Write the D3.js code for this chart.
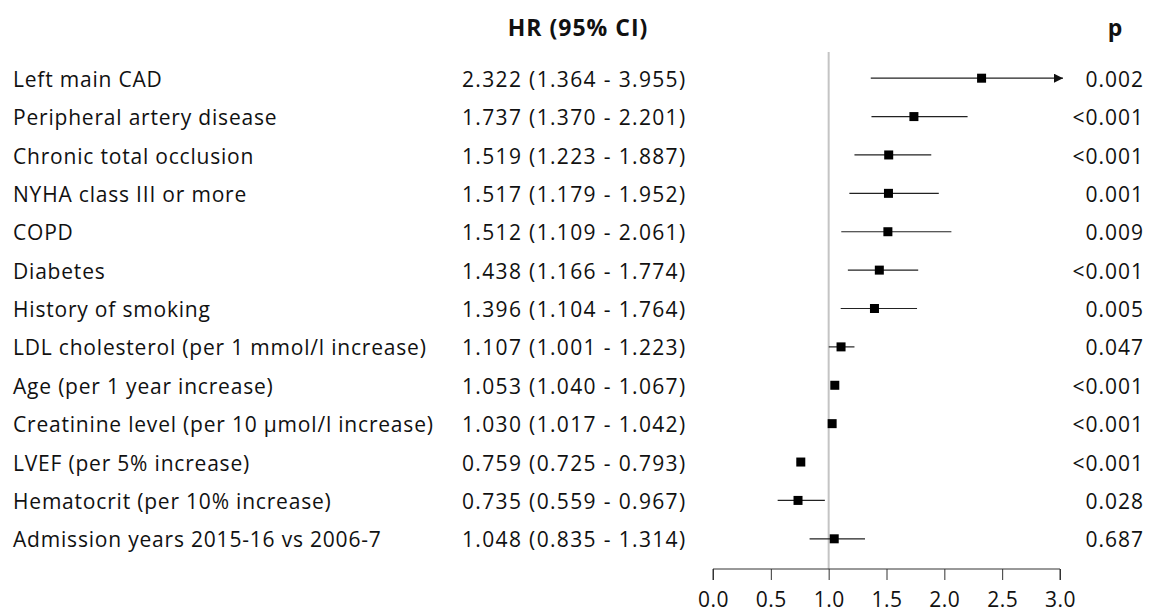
<!DOCTYPE html>
<html>
<head>
<meta charset="utf-8">
<script src="https://cdn.jsdelivr.net/npm/d3@7"></script>
<style>
  body { margin: 0; background: #fff; }
  text { font-family: "Open Sans", "Noto Sans", sans-serif; fill: #111; }
</style>
</head>
<body>
<div class="Canvas"></div>
<script>
// Rows of the forest plot, top to bottom.
const labels = [
    'Left main CAD',
    'Peripheral artery disease',
    'Chronic total occlusion',
    'NYHA class III or more',
    'COPD',
    'Diabetes',
    'History of smoking',
    'LDL cholesterol (per 1 mmol/l increase)',
    'Age (per 1 year increase)',
    'Creatinine level (per 10 \u00b5mol/l increase)',
    'LVEF (per 5% increase)',
    'Hematocrit (per 10% increase)',
    'Admission years 2015-16 vs 2006-7'
];
const hr = [2.322, 1.737, 1.519, 1.517, 1.512, 1.438, 1.396, 1.107, 1.053, 1.030, 0.759, 0.735, 1.048];
const lower = [1.364, 1.370, 1.223, 1.179, 1.109, 1.166, 1.104, 1.001, 1.040, 1.017, 0.725, 0.559, 0.835];
const upper = [3.955, 2.201, 1.887, 1.952, 2.061, 1.774, 1.764, 1.223, 1.067, 1.042, 0.793, 0.967, 1.314];
const pvals = ['0.002', '<0.001', '<0.001', '0.001', '0.009', '<0.001', '0.005', '0.047', '<0.001', '<0.001', '<0.001', '0.028', '0.687'];
const ticks = [0, 0.5, 1, 1.5, 2, 2.5, 3];

const width = 1154;
const height = 614;
const fontSize = 21;
const boxSize = 9;
const xMax = 3;

const svg = d3.select('.Canvas').append('svg')
    .attr('width', width)
    .attr('height', height);

const x = d3.scaleLinear().domain([0, xMax]).range([713, 1060]);
const y = d3.scaleBand().domain(d3.range(labels.length)).range([59, 558]);
const cy = (i) => y(i) + y.bandwidth() / 2;

const fmt = (v) => v.toFixed(3);

// Column headers
svg.append('text')
    .attr('x', 578).attr('y', 36)
    .attr('text-anchor', 'middle')
    .attr('font-size', '23px')
    .attr('font-weight', 'bold')
    .attr('letter-spacing', '1px')
    .text('HR (95% CI)');
svg.append('text')
    .attr('x', 1115).attr('y', 36)
    .attr('text-anchor', 'middle')
    .attr('font-size', '23px')
    .attr('font-weight', 'bold')
    .text('p');

// Reference line at HR = 1
svg.append('line')
    .attr('x1', x(1)).attr('x2', x(1))
    .attr('y1', 52).attr('y2', 569)
    .attr('stroke', '#c4c4c4')
    .attr('stroke-width', 2);

// Text columns
const rows = svg.append('g').selectAll('g.row')
    .data(labels)
    .enter()
    .append('g')
    .attr('class', 'row');

rows.append('text')
    .attr('x', 13)
    .attr('y', (d, i) => cy(i) + 1)
    .attr('dy', '0.36em')
    .attr('font-size', fontSize + 'px')
    .attr('letter-spacing', '0.8px')
    .text((d) => d);

rows.append('text')
    .attr('x', 462)
    .attr('y', (d, i) => cy(i) + 1)
    .attr('dy', '0.36em')
    .attr('font-size', fontSize + 'px')
    .attr('letter-spacing', '1.35px')
    .text((d, i) => `${fmt(hr[i])} (${fmt(lower[i])} - ${fmt(upper[i])})`);

rows.append('text')
    .attr('x', 1144)
    .attr('y', (d, i) => cy(i) + 1)
    .attr('dy', '0.36em')
    .attr('text-anchor', 'end')
    .attr('font-size', fontSize + 'px')
    .attr('letter-spacing', '1px')
    .text((d, i) => pvals[i]);

// Arrow marker for intervals clipped at the axis end
svg.append('defs').append('marker')
    .attr('id', 'arrow')
    .attr('viewBox', '0 0 10 10')
    .attr('refX', 10).attr('refY', 5)
    .attr('markerWidth', 11).attr('markerHeight', 9)
    .attr('markerUnits', 'userSpaceOnUse')
    .attr('orient', 'auto')
    .append('path')
    .attr('d', 'M0,0 L10,5 L0,10 Z')
    .attr('fill', '#111');

// Confidence intervals
rows.append('line')
    .attr('x1', (d, i) => x(lower[i]))
    .attr('x2', (d, i) => upper[i] > xMax ? x(xMax) + 3 : x(upper[i]))
    .attr('y1', (d, i) => cy(i))
    .attr('y2', (d, i) => cy(i))
    .attr('stroke', '#222')
    .attr('stroke-width', 1.2)
    .attr('marker-end', (d, i) => upper[i] > xMax ? 'url(#arrow)' : null);

// Point estimates
rows.append('rect')
    .attr('x', (d, i) => x(hr[i]) - boxSize / 2)
    .attr('y', (d, i) => cy(i) - boxSize / 2)
    .attr('width', boxSize)
    .attr('height', boxSize)
    .attr('fill', '#000');

// X axis
const axis = svg.append('g')
    .attr('transform', 'translate(0,569)')
    .call(d3.axisBottom(x).tickValues(ticks).tickFormat(d3.format('.1f')).tickSize(11).tickPadding(12));
axis.select('.domain').attr('stroke', '#333').attr('d', `M${x(0)},11V0H${x(xMax)}V11`);
axis.selectAll('.tick line').attr('stroke', '#333');
axis.selectAll('.tick text')
    .attr('font-size', '21px')
    .attr('letter-spacing', '0.5px')
    .attr('font-family', '"Open Sans", "Noto Sans", sans-serif')
    .attr('fill', '#111');
</script>
</body>
</html>
